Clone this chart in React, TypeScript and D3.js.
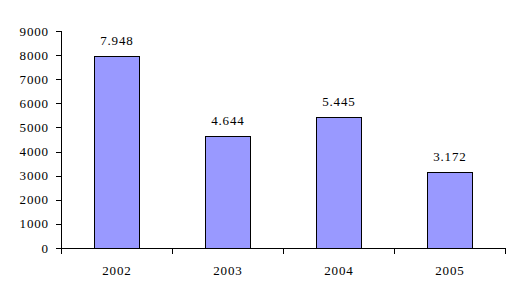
import React from "react";
import * as d3 from "d3";

const categories = ["2002", "2003", "2004", "2005"];
const values = [7948, 4644, 5445, 3172];
const valueLabels = ["7.948", "4.644", "5.445", "3.172"];
const yTicks = [0, 1000, 2000, 3000, 4000, 5000, 6000, 7000, 8000, 9000];

export default function App() {
  const W = 522, H = 302;
  const left = 61, right = 505, top = 31, bottom = 248;
  const x = d3.scaleBand<string>().domain(categories).range([left, right]).paddingInner(0).paddingOuter(0);
  const y = d3.scaleLinear().domain([0, 9000]).range([bottom, top]);
  const barW = 45;
  const font = "'Times New Roman', 'Liberation Serif', serif";
  const fs = 13;
  const ls = 0.8;
  return (
    <svg width={W} height={H} style={{ position: "absolute", left: 0, top: 0, background: "#fff" }}>
      {categories.map((c, i) => {
        const cx = (x(c) as number) + x.bandwidth() / 2;
        const yv = y(values[i]);
        return (
          <g key={c}>
            <rect x={Math.round(cx - barW / 2) + 0.5} y={Math.round(yv) + 0.5} width={barW} height={bottom - Math.round(yv)} fill="#9999FF" stroke="#000" strokeWidth={1} />
            <text x={cx + ls / 2} y={yv - 11} textAnchor="middle" fontFamily={font} fontSize={fs} letterSpacing={ls} fill="#000">{valueLabels[i]}</text>
            <text x={cx + ls / 2} y={275} textAnchor="middle" fontFamily={font} fontSize={fs} letterSpacing={ls} fill="#000">{c}</text>
          </g>
        );
      })}
      <line x1={left + 0.5} x2={left + 0.5} y1={top} y2={bottom + 0.5} stroke="#000" />
      {yTicks.map((t) => (
        <g key={t}>
          <line x1={left - 5} x2={left} y1={Math.round(y(t)) + 0.5} y2={Math.round(y(t)) + 0.5} stroke="#000" />
          <text x={48 + ls} y={y(t) + 4.5} textAnchor="end" fontFamily={font} fontSize={fs} letterSpacing={ls} fill="#000">{t}</text>
        </g>
      ))}
      <line x1={left} x2={right + 0.5} y1={bottom + 0.5} y2={bottom + 0.5} stroke="#000" />
      {[...categories.map((c) => x(c) as number), right].map((v, i) => (
        <line key={i} x1={Math.round(v) + 0.5} x2={Math.round(v) + 0.5} y1={bottom} y2={bottom + 6} stroke="#000" />
      ))}
    </svg>
  );
}
